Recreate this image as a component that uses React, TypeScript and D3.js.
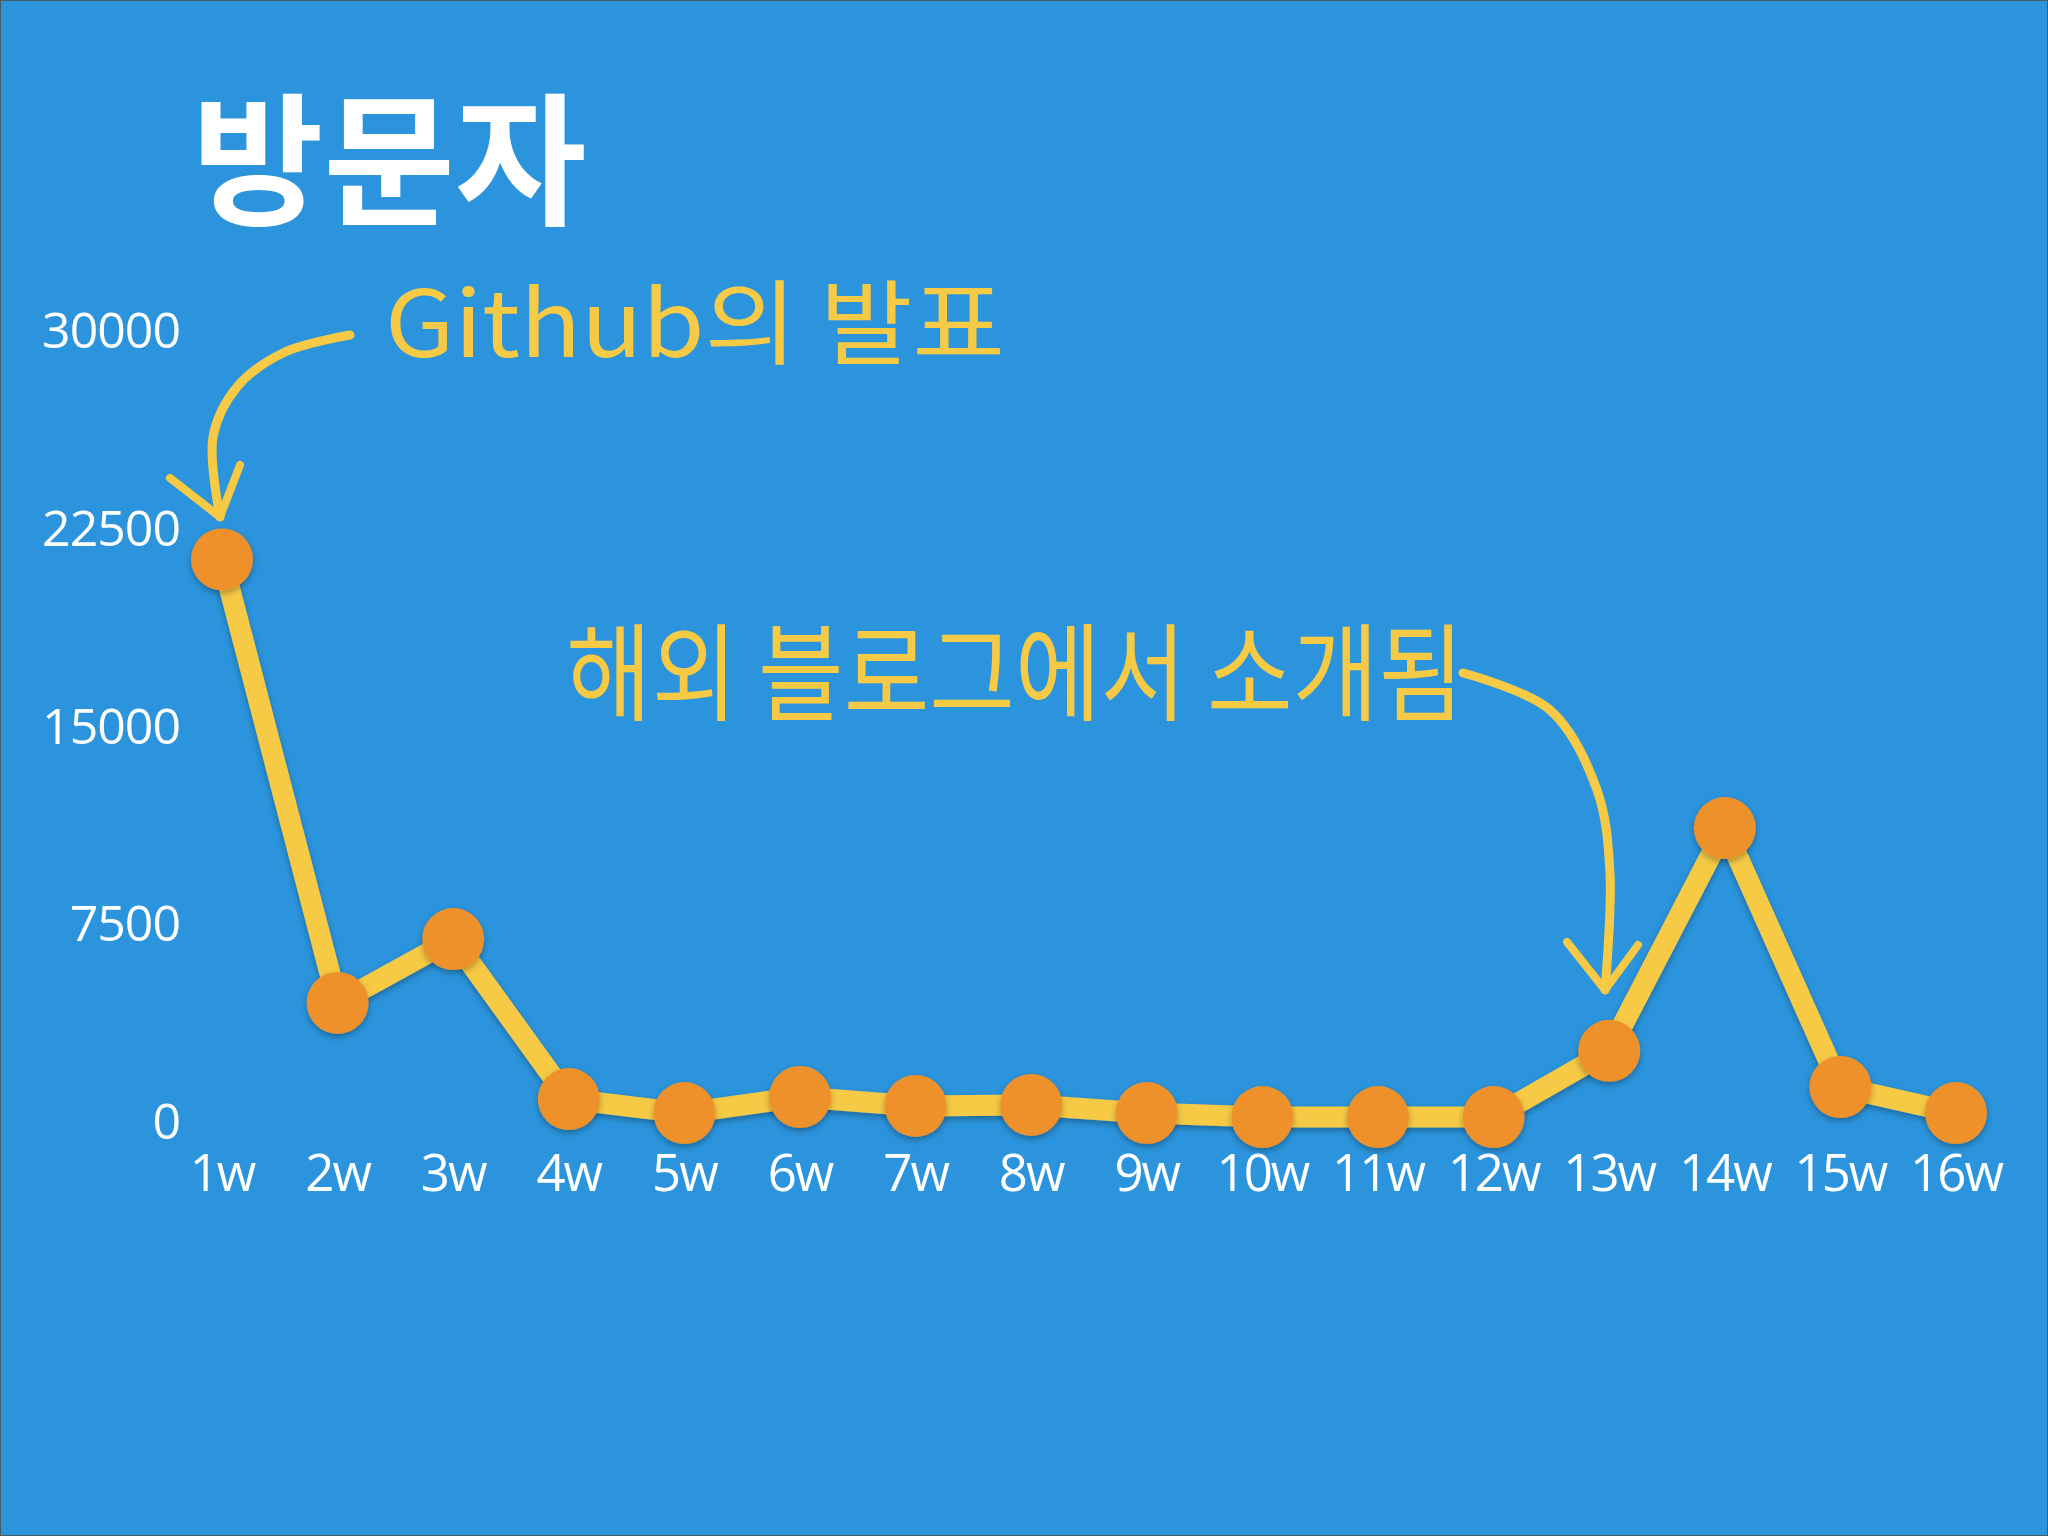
import React, { useEffect, useRef } from 'react';
import * as d3 from 'd3';

// weekly visitors
const weeks = ['1w', '2w', '3w', '4w', '5w', '6w', '7w', '8w', '9w', '10w', '11w', '12w', '13w', '14w', '15w', '16w'];
const visitors = [21300, 4480, 6900, 830, 300, 910, 570, 610, 300, 150, 150, 150, 2660, 11110, 1290, 300];
const yTicks = [0, 7500, 15000, 22500, 30000];

const title = '방문자';
const note1 = 'Github의 발표';
const note2 = '해외 블로그에서 소개됨';

const W = 2048;
const H = 1536;
const BG = '#2B94DC';
const YELLOW = '#F6CA45';
const ORANGE = '#EE9129';

const App = () => {
    const ref = useRef<SVGSVGElement | null>(null);

    useEffect(() => {
        const svg = d3.select(ref.current);
        svg.selectAll('*').remove();

        const x = d3.scalePoint<string>().domain(weeks).range([222, 1956]);
        const y = d3.scaleLinear().domain([0, 30000]).range([1121, 330]);

        const defs = svg.append('defs');
        const f = defs.append('filter').attr('id', 'shadow')
            .attr('x', '-50%').attr('y', '-50%').attr('width', '200%').attr('height', '200%');
        f.append('feDropShadow').attr('dx', 0).attr('dy', 3).attr('stdDeviation', 3)
            .attr('flood-color', '#000').attr('flood-opacity', 0.3);

        svg.append('rect').attr('width', W).attr('height', H).attr('fill', BG)
            .attr('stroke', '#4a5a66').attr('stroke-width', 2);

        // title
        svg.append('text')
            .attr('x', 192).attr('y', 214)
            .attr('font-family', '"Noto Sans CJK KR", sans-serif')
            .attr('font-weight', 700)
            .attr('font-size', 143)
            .attr('fill', '#fff')
            .text(title);

        // y tick labels
        svg.append('g').selectAll('text')
            .data(yTicks)
            .enter().append('text')
            .attr('x', 180)
            .attr('y', d => y(d) + 18)
            .attr('text-anchor', 'end')
            .attr('font-family', '"Open Sans", sans-serif')
            .attr('font-size', 50)
            .attr('letter-spacing', -1)
            .attr('fill', '#fff')
            .text(d => String(d));

        // x tick labels
        svg.append('g').selectAll('text')
            .data(weeks)
            .enter().append('text')
            .attr('x', d => x(d) as number)
            .attr('y', 1191)
            .attr('text-anchor', 'middle')
            .attr('font-family', '"Open Sans", sans-serif')
            .attr('font-size', 51)
            .attr('letter-spacing', -2)
            .attr('fill', '#fff')
            .text(d => d);

        const pts = weeks.map((w, i) => ({ w, v: visitors[i] }));

        const line = d3.line<{ w: string; v: number }>()
            .x(d => x(d.w) as number)
            .y(d => y(d.v));

        svg.append('path')
            .datum(pts)
            .attr('d', line)
            .attr('fill', 'none')
            .attr('stroke', YELLOW)
            .attr('stroke-width', 21)
            .attr('stroke-linejoin', 'round')
            .attr('filter', 'url(#shadow)');

        svg.append('g').selectAll('circle')
            .data(pts)
            .enter().append('circle')
            .attr('cx', d => x(d.w) as number)
            .attr('cy', d => y(d.v))
            .attr('r', 31)
            .attr('fill', ORANGE)
            .attr('filter', 'url(#shadow)');

        // hand-written notes
        svg.append('text')
            .attr('x', 385).attr('y', 357)
            .attr('font-family', '"Noto Sans CJK KR", sans-serif')
            .attr('font-weight', 400)
            .attr('font-size', 92)
            .attr('textLength', 620)
            .attr('lengthAdjust', 'spacingAndGlyphs')
            .attr('fill', YELLOW)
            .text(note1);

        svg.append('text')
            .attr('x', 566).attr('y', 712)
            .attr('font-family', '"Noto Sans CJK KR", sans-serif')
            .attr('font-weight', 400)
            .attr('font-size', 106)
            .attr('textLength', 898)
            .attr('lengthAdjust', 'spacingAndGlyphs')
            .attr('fill', YELLOW)
            .text(note2);

        // brush arrows
        const curve = d3.line().curve(d3.curveCatmullRom.alpha(0.5));
        const arrows: [number, number][][] = [
            [[350, 335], [285, 352], [237, 387], [213, 437], [220, 517]],
            [[1463, 673], [1550, 710], [1597, 790], [1610, 873], [1605, 990]],
        ];
        const heads: [number, number][][] = [
            [[170, 478], [220, 517], [240, 465]],
            [[1567, 942], [1605, 990], [1638, 945]],
        ];
        arrows.forEach(a => {
            svg.append('path').attr('d', curve(a))
                .attr('fill', 'none').attr('stroke', YELLOW)
                .attr('stroke-width', 9).attr('stroke-linecap', 'round');
        });
        heads.forEach(h => {
            svg.append('path').attr('d', d3.line()(h))
                .attr('fill', 'none').attr('stroke', YELLOW)
                .attr('stroke-width', 8).attr('stroke-linecap', 'round')
                .attr('stroke-linejoin', 'round');
        });
    }, []);

    return (
        <div style={{ position: 'absolute', left: 0, top: 0 }}>
            <svg ref={ref} width={W} height={H} style={{ display: 'block' }} />
        </div>
    );
};

export default App;
